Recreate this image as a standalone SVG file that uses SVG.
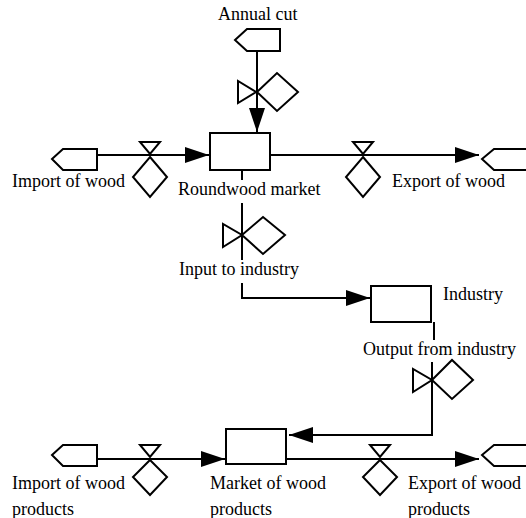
<svg xmlns="http://www.w3.org/2000/svg" width="526" height="518" viewBox="0 0 526 518">
<style>
.ln{fill:none;stroke:#000;stroke-width:2}
.sh{fill:#fff;stroke:#000;stroke-width:2}
.tx{font-family:"Liberation Serif","Times New Roman",serif;font-size:18px;fill:#000}
</style>
<defs>
<marker id="arr" markerWidth="24" markerHeight="16" refX="24" refY="8" orient="auto" markerUnits="userSpaceOnUse">
<path d="M0,0 L24,8 L0,16 Z" fill="#000"/>
</marker>
</defs>
<rect width="526" height="518" fill="#fff"/>
<g id="connectors">
<path class="ln" d="M257,51 V132" marker-end="url(#arr)"/>
<path class="ln" d="M97,155 H209" marker-end="url(#arr)"/>
<path class="ln" d="M270,155 H479" marker-end="url(#arr)"/>
<path class="ln" d="M242,170 V180"/>
<path class="ln" d="M242,203 V260"/>
<path class="ln" d="M242,283 V298 H370" marker-end="url(#arr)"/>
<path class="ln" d="M434,322 V340"/>
<path class="ln" d="M432,362 V435 H289" marker-end="url(#arr)"/>
<path class="ln" d="M97,459 H225" marker-end="url(#arr)"/>
<path class="ln" d="M286,459 H479" marker-end="url(#arr)"/>
</g>
<g id="annual-cut-source">
<polygon class="sh" points="235,40 247,29 280,29 280,51 247,51"/>
<text class="tx" x="218" y="20">Annual cut</text>
</g>
<g id="annual-cut-valve">
<polygon class="sh" points="238,81 238,103 256,92"/>
<polygon class="sh" points="257,92 277,73 298,92 277,111"/>
</g>
<g id="roundwood-market">
<rect class="sh" x="210" y="133" width="60" height="37"/>
<text class="tx" x="178" y="195">Roundwood market</text>
</g>
<g id="import-wood-source">
<polygon class="sh" points="52,159 63,149 97,149 97,170 63,170"/>
</g>
<g id="import-wood-valve">
<polygon class="sh" points="140,142 160,142 150,154"/>
<polygon class="sh" points="150,157 167,177 150,197 133,177"/>
<text class="tx" x="12" y="187">Import of wood</text>
</g>
<g id="export-wood-valve">
<polygon class="sh" points="353,142 373,142 363,154"/>
<polygon class="sh" points="363,157 380,177 363,197 346,177"/>
<text class="tx" x="392" y="187">Export of wood</text>
</g>
<g id="export-wood-sink">
<polygon class="sh" points="482,159 494,149 530,149 530,170 494,170"/>
</g>
<g id="input-valve">
<polygon class="sh" points="223,224 223,247 242,235"/>
<polygon class="sh" points="242,235 263,217 285,235 263,254"/>
<text class="tx" x="179" y="275">Input to industry</text>
</g>
<g id="industry">
<rect class="sh" x="371" y="286" width="60" height="36"/>
<text class="tx" x="443" y="300">Industry</text>
</g>
<g id="output-valve">
<text class="tx" x="363" y="355">Output from industry</text>
<polygon class="sh" points="413,369 413,392 432,380"/>
<polygon class="sh" points="432,380 452,360 473,380 452,399"/>
</g>
<g id="market-wood-products">
<rect class="sh" x="226" y="429" width="60" height="35"/>
<text class="tx" x="210" y="489">Market of wood</text>
<text class="tx" x="210" y="515">products</text>
</g>
<g id="import-products-source">
<polygon class="sh" points="52,455 63,445 97,445 97,466 63,466"/>
</g>
<g id="import-products-valve">
<polygon class="sh" points="140,445 160,445 150,457"/>
<polygon class="sh" points="150,460 167,477 150,495 133,477"/>
<text class="tx" x="12" y="489">Import of wood</text>
<text class="tx" x="12" y="515">products</text>
</g>
<g id="export-products-valve">
<polygon class="sh" points="370,445 390,445 380,457"/>
<polygon class="sh" points="380,460 397,477 380,495 363,477"/>
<text class="tx" x="408" y="489">Export of wood</text>
<text class="tx" x="408" y="515">products</text>
</g>
<g id="export-products-sink">
<polygon class="sh" points="482,455 494,445 530,445 530,466 494,466"/>
</g>
</svg>
